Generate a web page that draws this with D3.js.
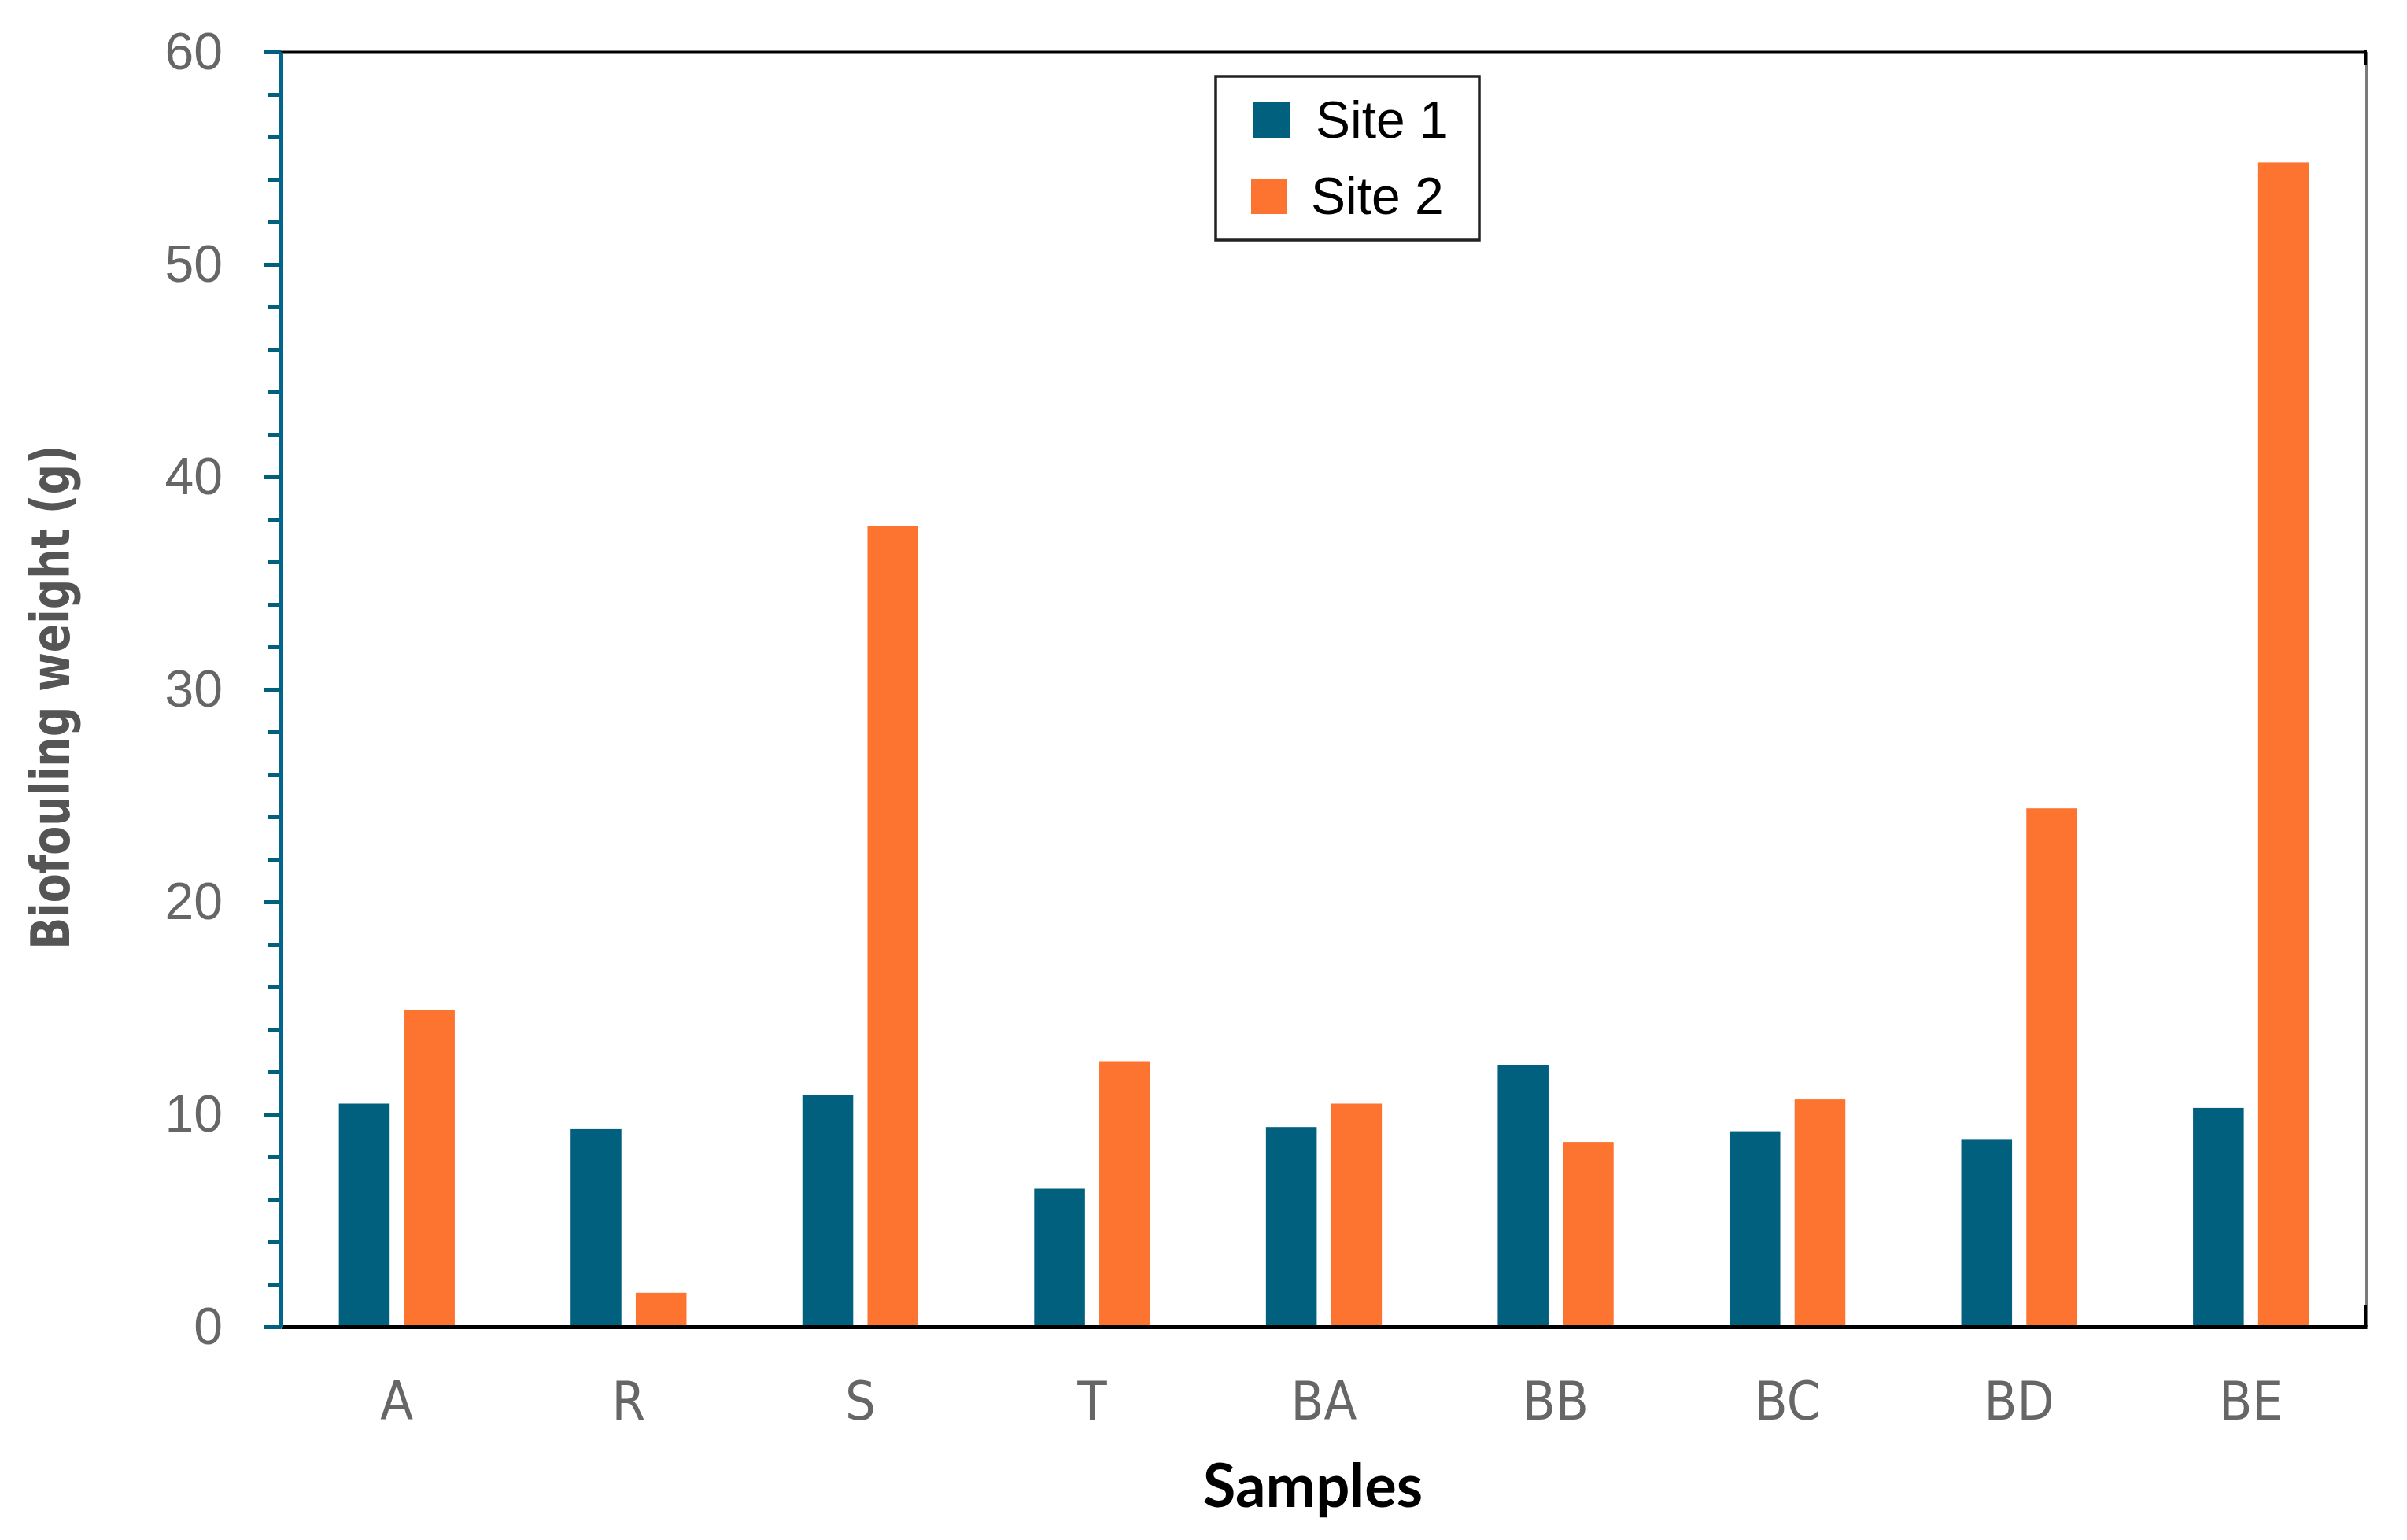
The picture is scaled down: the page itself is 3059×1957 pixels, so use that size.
<!DOCTYPE html>
<html>
<head>
<meta charset="utf-8">
<script src="https://cdn.jsdelivr.net/npm/d3@7"></script>
<style>
  html, body { margin: 0; padding: 0; background: #ffffff; }
  svg { display: block; }
</style>
</head>
<body>
<svg id="chart" width="3059" height="1957"></svg>
<script>
// ---- data ----
const categories = ["A", "R", "S", "T", "BA", "BB", "BC", "BD", "BE"];
const seriesNames = ["Site 1", "Site 2"];
const site1 = [10.5, 9.3, 10.9, 6.5, 9.4, 12.3, 9.2, 8.8, 10.3];
const site2 = [14.9, 1.6, 37.7, 12.5, 10.5, 8.7, 10.7, 24.4, 54.8];
const yTicks = [0, 10, 20, 30, 40, 50, 60];
const yMinorTicks = d3.range(0, 61, 2);
const colors = ["#02607f", "#fd7330"];
const xTitle = "Samples";
const yTitle = "Biofouling weight (g)";

// ---- layout ----
const plotL = 357, plotR = 3008, plotT = 66, plotB = 1686;

const svg = d3.select("#chart");

const x0 = d3.scaleBand().domain(categories).range([plotL, plotR])
  .paddingInner(0.5).paddingOuter(0.25);
const x1 = d3.scaleBand().domain(seriesNames).range([0, x0.bandwidth()])
  .paddingInner(0.22).paddingOuter(0);
const y = d3.scaleLinear().domain([0, 60]).range([plotB, plotT]);

const table = categories.map((c, i) => ({ cat: c, vals: [site1[i], site2[i]] }));

// bars
const groups = svg.append("g").selectAll("g").data(table).join("g")
  .attr("transform", d => `translate(${x0(d.cat)},0)`);
groups.selectAll("rect")
  .data(d => d.vals.map((v, j) => ({ name: seriesNames[j], v, j })))
  .join("rect")
  .attr("x", d => x1(d.name))
  .attr("y", d => y(d.v))
  .attr("width", x1.bandwidth())
  .attr("height", d => y(0) - y(d.v))
  .attr("fill", d => colors[d.j]);

// frame: top (black), right (gray)
svg.append("line").attr("x1", plotL).attr("x2", plotR).attr("y1", y(60)).attr("y2", y(60))
  .attr("stroke", "#000").attr("stroke-width", 3);
svg.append("line").attr("x1", plotR).attr("x2", plotR).attr("y1", y(60)).attr("y2", y(0))
  .attr("stroke", "#7a7a7a").attr("stroke-width", 4);
svg.append("line").attr("x1", plotR - 2).attr("x2", plotR - 2).attr("y1", y(60) - 3).attr("y2", y(60) + 16)
  .attr("stroke", "#000").attr("stroke-width", 4);
svg.append("line").attr("x1", plotR - 2).attr("x2", plotR - 2).attr("y1", y(0) - 28).attr("y2", y(0))
  .attr("stroke", "#000").attr("stroke-width", 4);

// x axis
const xAxis = d3.axisBottom(x0).tickSize(0).tickPadding(70);
const gx = svg.append("g").attr("transform", `translate(0,${y(0)})`).call(xAxis);
gx.select(".domain").attr("stroke", "#000").attr("stroke-width", 5);
gx.selectAll(".tick text")
  .attr("fill", "#666")
  .attr("font-family", "'Liberation Sans Narrow', 'DejaVu Sans Condensed', 'Roboto', sans-serif")
  .style("font-stretch", "condensed")
  .attr("font-size", 68);

// y axis minor ticks
const yMinor = d3.axisLeft(y).tickValues(yMinorTicks).tickSize(16).tickFormat("");
const gym = svg.append("g").attr("transform", `translate(${plotL},0)`).call(yMinor);
gym.select(".domain").remove();
gym.selectAll(".tick line").attr("stroke", "#02607f").attr("stroke-width", 5);

// y axis major
const yAxis = d3.axisLeft(y).tickValues(yTicks).tickSize(22).tickPadding(52).tickSizeOuter(0);
const gy = svg.append("g").attr("transform", `translate(${plotL},0)`).call(yAxis);
gy.select(".domain").attr("stroke", "#036688").attr("stroke-width", 5);
gy.selectAll(".tick line").attr("stroke", "#02607f").attr("stroke-width", 5);
gy.selectAll(".tick text")
  .attr("fill", "#666")
  .attr("font-family", "'Liberation Sans', Arial, sans-serif")
  .attr("font-size", 66);

// axis titles
svg.append("text")
  .attr("x", (plotL + plotR) / 2 - 14)
  .attr("y", 1915)
  .attr("text-anchor", "middle")
  .attr("font-family", "Lato, 'Open Sans', sans-serif")
  .attr("font-weight", "bold")
  .attr("font-size", 76)
  .attr("fill", "#000")
  .text(xTitle);

svg.append("text")
  .attr("transform", `translate(88,${(plotT + plotB) / 2 + 10}) rotate(-90) scale(0.88,1)`)
  .attr("text-anchor", "middle")
  .attr("font-family", "'Liberation Sans Narrow', 'DejaVu Sans Condensed', 'Roboto', sans-serif")
  .style("font-stretch", "condensed")
  .attr("font-weight", "bold")
  .attr("font-size", 68)
  .attr("fill", "#555")
  .text(yTitle);

// legend
const lg = svg.append("g").attr("transform", "translate(1545,97)");
lg.append("rect").attr("x", 0).attr("y", 0).attr("width", 335).attr("height", 208)
  .attr("fill", "#fff").attr("stroke", "#222").attr("stroke-width", 3.5);
const items = lg.selectAll("g.item").data(seriesNames).join("g").attr("class", "item")
  .attr("transform", (d, i) => `translate(0,${33 + i * 97})`);
items.append("rect").attr("x", (d, i) => 48 - i * 3).attr("y", 0).attr("width", 46).attr("height", 45)
  .attr("fill", (d, i) => colors[i]);
items.append("text").attr("x", (d, i) => 127 - i * 6).attr("y", 45)
  .attr("font-family", "'Liberation Sans', Arial, sans-serif")
  .attr("font-size", 66).attr("fill", "#000")
  .text(d => d);
</script>
</body>
</html>
